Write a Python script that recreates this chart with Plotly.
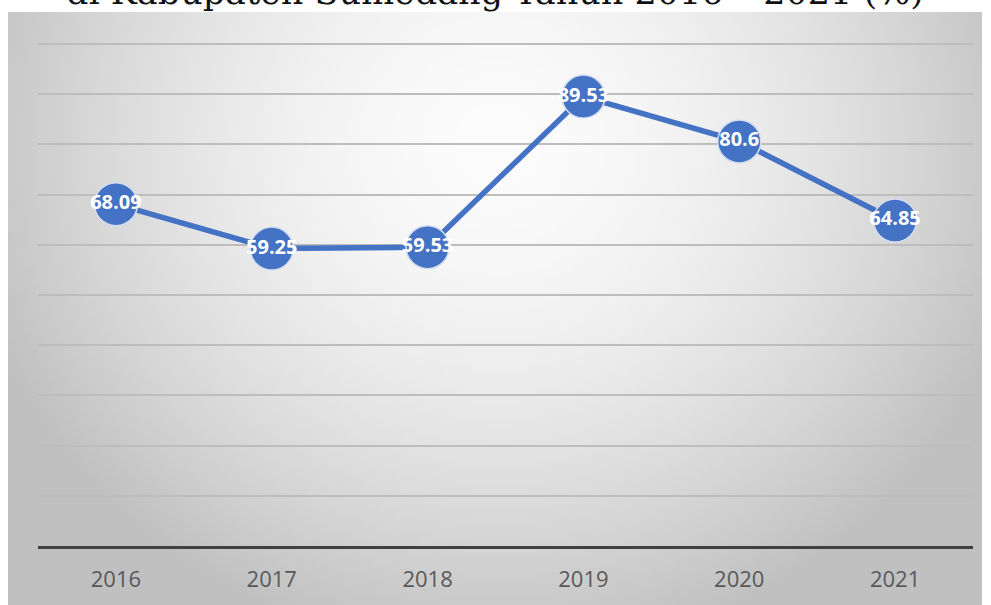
import base64, struct, zlib
import numpy as np
import plotly.graph_objects as go

years = ["2016", "2017", "2018", "2019", "2020", "2021"]
values = [68.09, 59.25, 59.53, 89.53, 80.6, 64.85]
labels = ["68.09", "59.25", "59.53", "89.53", "80.6", "64.85"]
title_text = "di Kabupaten Sumedang Tahun 2016 – 2021 (%)"

W, H = 991, 605
L, R, T, B = 38, 18, 39, 59

# radial gradient background image
gw, gh = 200, 120
yy, xx = np.mgrid[0:gh, 0:gw]
cx, cy = gw * 0.5, gh * 0.22
d = np.sqrt(((xx - cx) / (gw * 0.55)) ** 2 + ((yy - cy) / (gh * 0.85)) ** 2)
val = np.clip(252 - 58 * d ** 1.7, 192, 252).astype(np.uint8)
raw = b"".join(b"\x00" + bytes(np.repeat(val[r][:, None], 3, axis=1).flatten()) for r in range(gh))

def chunk(tag, data):
    c = tag + data
    return struct.pack(">I", len(data)) + c + struct.pack(">I", zlib.crc32(c) & 0xffffffff)

png = b"\x89PNG\r\n\x1a\n" + chunk(b"IHDR", struct.pack(">IIBBBBB", gw, gh, 8, 2, 0, 0, 0)) \
    + chunk(b"IDAT", zlib.compress(raw)) + chunk(b"IEND", b"")
src = "data:image/png;base64," + base64.b64encode(png).decode()

pw, ph = W - L - R, H - T - B
bx0, bx1, by0, by1 = 8, 982, 12, 605
img = dict(source=src, xref="paper", yref="paper",
           x=(bx0 - L) / pw, y=(H - B - by0) / ph,
           sizex=(bx1 - bx0) / pw, sizey=(by1 - by0) / ph,
           xanchor="left", yanchor="top", sizing="stretch", layer="below")

fig = go.Figure()
fig.add_trace(go.Scatter(
    x=years, y=values, mode="lines+markers+text",
    line=dict(color="#4472C4", width=5.5),
    marker=dict(size=43, color="#4472C4", line=dict(color="#d3ddf0", width=1.5)),
    text=labels, textposition="middle center",
    textfont=dict(family="Open Sans", size=20, color="white", weight="bold"),
    cliponaxis=False, hoverinfo="skip",
))

fig.update_layout(
    width=W, height=H,
    margin=dict(l=L, r=R, t=T, b=B),
    paper_bgcolor="white", plot_bgcolor="rgba(0,0,0,0)",
    showlegend=False,
    images=[img],
    xaxis=dict(type="category", range=[-0.5, 5.5], showgrid=False,
               showline=True, linecolor="#404040", linewidth=3,
               ticks="", tickfont=dict(family="Open Sans", size=22, color="#595959"),
               ticklabelstandoff=12, zeroline=False),
    yaxis=dict(range=[0, 101], tickvals=[10, 20, 30, 40, 50, 60, 70, 80, 90, 100],
               showgrid=True, gridcolor="#bdbdbd", gridwidth=2,
               showticklabels=False, zeroline=False, showline=False),
    annotations=[dict(text=title_text, xref="paper", yref="paper",
                      x=(495 - L) / pw, y=(H - B - 14) / ph,
                      xanchor="center", yanchor="bottom", showarrow=False,
                      font=dict(family="DejaVu Serif", size=35, color="#111111"))],
)

fig.write_html("out.html", config={"displayModeBar": False},
               post_script="document.body.style.margin='0';document.body.style.overflow='hidden';")
